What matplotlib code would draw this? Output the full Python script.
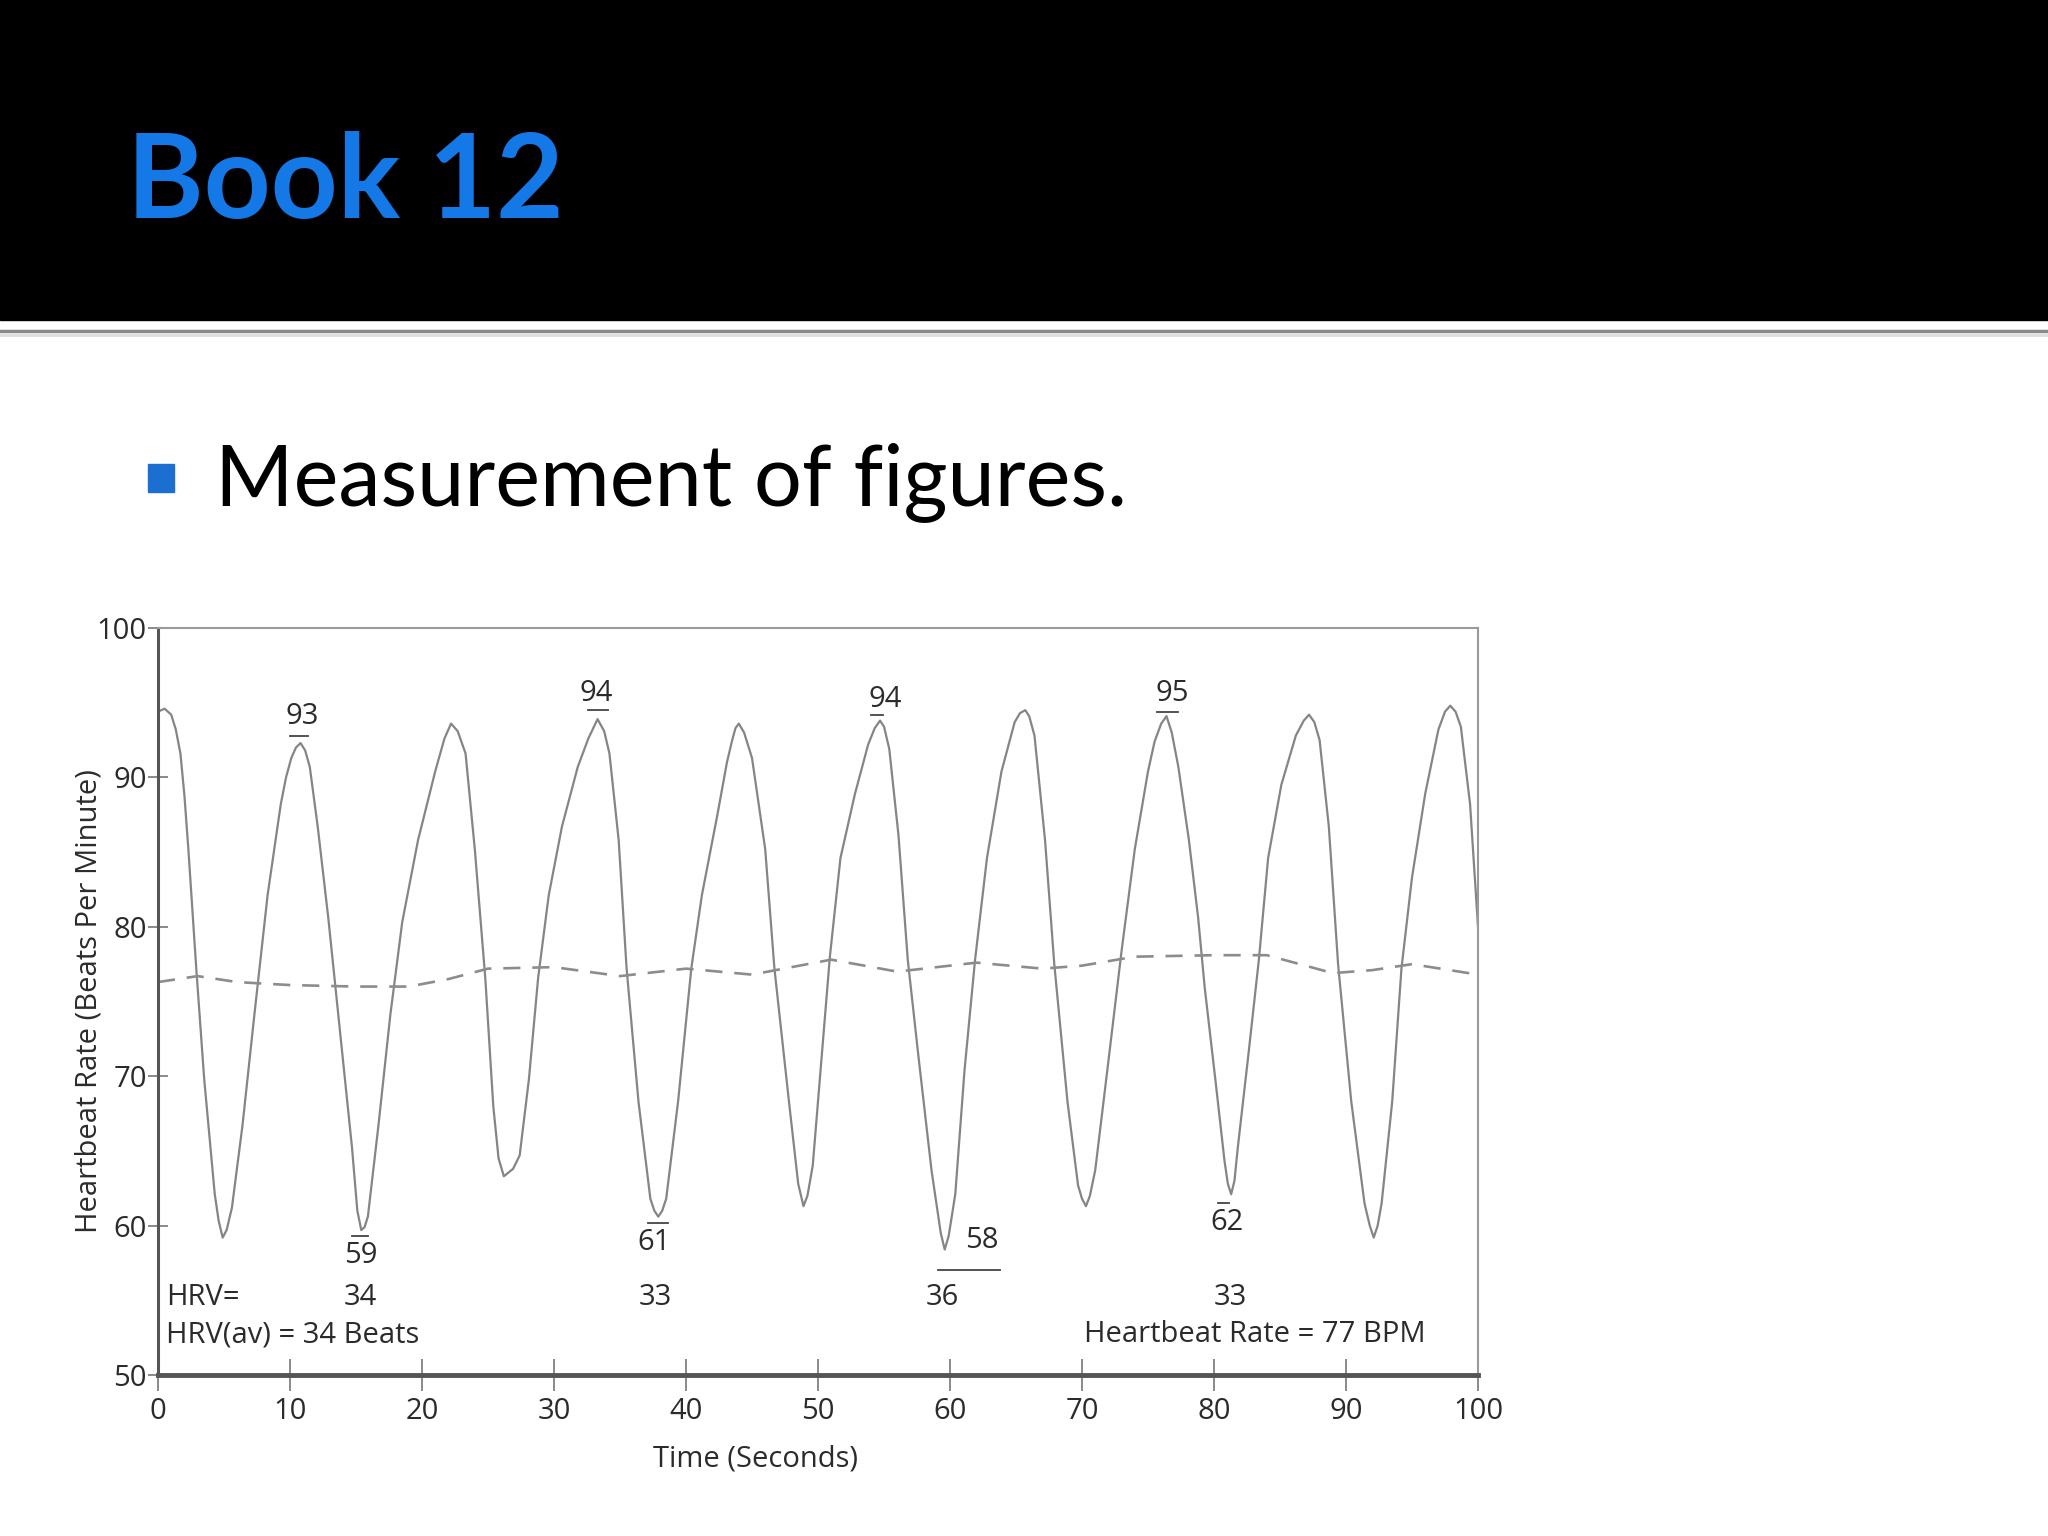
import matplotlib
matplotlib.use('Agg')
import matplotlib.pyplot as plt
from matplotlib.patches import Rectangle
from matplotlib.lines import Line2D

# heart rate trace (seconds, beats per minute)
t_hr = [0.0, 0.5, 1.0, 1.35, 1.7, 2.0, 2.3, 2.9, 3.5, 4.3, 4.6, 4.9, 5.2, 5.6, 6.4, 7.3,
        8.3, 9.3, 9.7, 10.1, 10.45, 10.8, 11.15, 11.5, 12.1, 12.9, 13.8, 14.7, 15.1, 15.4,
        15.65, 15.9, 16.7, 17.6, 18.5, 19.7, 21.0, 21.7, 22.2, 22.7, 23.3, 24.0, 24.8, 25.4,
        25.8, 26.2, 26.9, 27.4, 28.1, 28.8, 29.6, 30.6, 31.8, 32.6, 33.3, 33.8, 34.2, 34.9,
        35.5, 36.4, 37.3, 37.6, 37.9, 38.2, 38.5, 39.4, 40.4, 41.2, 42.4, 43.1, 43.5, 43.75,
        44.0, 44.4, 45.0, 46.0, 46.7, 47.8, 48.5, 48.9, 49.2, 49.6, 50.3, 50.9, 51.7, 52.8,
        53.8, 54.3, 54.7, 55.0, 55.4, 56.1, 56.8, 57.6, 58.6, 59.3, 59.6, 59.9, 60.4, 61.1,
        61.9, 62.8, 63.9, 64.9, 65.3, 65.7, 66.0, 66.4, 67.2, 67.9, 68.9, 69.7, 70.0, 70.3,
        70.6, 71.0, 72.0, 73.0, 74.0, 75.0, 75.5, 76.0, 76.4, 76.8, 77.3, 78.1, 78.8, 79.3,
        80.1, 80.8, 81.05, 81.3, 81.55, 81.8, 82.6, 83.4, 84.1, 85.1, 86.2, 86.8, 87.2, 87.6,
        88.0, 88.7, 89.4, 90.4, 91.4, 91.8, 92.1, 92.4, 92.7, 93.5, 94.2, 95.0, 96.0, 97.0,
        97.5, 97.9, 98.3, 98.7, 99.4, 100.0]
hr = [94.4, 94.6, 94.2, 93.2, 91.6, 88.8, 85.2, 77.2, 69.8, 62.1, 60.3, 59.2, 59.7, 61.2, 66.7, 74.1,
      82.1, 88.2, 90.0, 91.3, 92.0, 92.3, 91.8, 90.7, 86.7, 80.6, 72.9, 65.2, 61.0, 59.7,
      59.9, 60.6, 66.7, 74.1, 80.3, 85.8, 90.4, 92.6, 93.6, 93.1, 91.6, 85.2, 76.5, 68.0,
      64.5, 63.3, 63.8, 64.7, 69.8, 76.6, 82.1, 86.7, 90.7, 92.6, 93.9, 93.1, 91.6, 85.8,
      77.2, 68.3, 61.8, 61.0, 60.6, 61.0, 61.8, 68.3, 77.2, 82.1, 87.6, 91.0, 92.5, 93.3,
      93.6, 93.0, 91.3, 85.2, 77.2, 68.3, 62.8, 61.3, 62.0, 64.0, 71.5, 78.0, 84.6, 88.9,
      92.2, 93.3, 93.8, 93.4, 91.9, 86.1, 77.8, 71.4, 63.7, 59.5, 58.4, 59.3, 62.1, 70.4,
      77.8, 84.6, 90.4, 93.7, 94.3, 94.5, 94.1, 92.8, 85.8, 77.5, 68.3, 62.7, 61.8, 61.3,
      62.0, 63.7, 71.0, 78.4, 85.2, 90.4, 92.4, 93.6, 94.1, 93.0, 90.7, 85.8, 80.6, 75.9,
      69.8, 64.3, 62.8, 62.1, 63.0, 65.2, 71.4, 77.8, 84.6, 89.5, 92.8, 93.8, 94.2, 93.7,
      92.5, 86.7, 77.5, 68.3, 61.5, 60.0, 59.2, 60.0, 61.5, 68.3, 77.2, 83.3, 88.9, 93.2,
      94.4, 94.8, 94.4, 93.4, 88.2, 80.0]

# running average (dashed)
t_avg = [0, 3, 6, 10, 15, 19, 22, 25, 30, 35, 40, 45, 51, 56, 62, 67, 70, 74, 80, 84, 89, 92, 95, 100]
avg = [76.3, 76.7, 76.3, 76.1, 76.0, 76.0, 76.5, 77.2, 77.3, 76.7, 77.2, 76.8, 77.8, 77.0,
       77.6, 77.2, 77.4, 78.0, 78.1, 78.1, 76.9, 77.1, 77.5, 76.8]

# peak / trough labels
peak_txt = ['93', '94', '94', '95']
peak_t = [10.9, 33.2, 55.1, 76.8]
peak_v = [94.1, 95.6, 95.2, 95.6]
peak_bar = [(10.0, 11.4, 92.8), (32.6, 34.1, 94.5), (54.0, 54.9, 94.2), (75.7, 77.3, 94.4)]
low_txt = ['59', '61', '58', '62']
low_t = [15.4, 37.6, 62.4, 81.0]
low_v = [58.0, 58.9, 59.0, 60.2]
low_bar = [(14.7, 15.9, 59.3), (37.1, 38.6, 60.2), (59.1, 63.8, 57.0), (80.3, 81.1, 61.5)]
hrv_txt = ['34', '33', '36', '33']
hrv_t = [15.3, 37.7, 59.4, 81.2]

W, H = 2048, 1536
fig = plt.figure(figsize=(W / 100, H / 100), dpi=100)
fig.patch.set_facecolor('white')

# slide header
fig.patches.append(Rectangle((0, 1 - 320 / H), 1, 320 / H, transform=fig.transFigure,
                             color='black', zorder=0))
fig.lines.append(Line2D([0, 1], [1 - 331 / H] * 2, transform=fig.transFigure,
                        color='#8a8a8a', lw=2.5))
fig.lines.append(Line2D([0, 1], [1 - 335 / H] * 2, transform=fig.transFigure,
                        color='#dedede', lw=2))
fig.text(127 / W, 1 - 218 / H, 'Book 12', fontsize=84, fontweight='bold', color='#1478e6',
         family=['Lato', 'DejaVu Sans'], va='baseline')
fig.patches.append(Rectangle((148 / W, 1 - 492 / H), 26 / W, 28 / H, transform=fig.transFigure,
                             color='#1a6fd0'))
fig.text(215 / W, 1 - 505 / H, 'Measurement of figures.', fontsize=61, color='black',
         family=['Lato', 'DejaVu Sans'], va='baseline')

# chart
fam = ['Liberation Sans Narrow', 'Open Sans', 'DejaVu Sans']
txtc = '#2b2b2b'
ax = fig.add_axes([158 / W, 1 - 1375 / H, 1320 / W, 747 / H])
ax.plot(t_hr, hr, color='#858585', lw=1.6, solid_joinstyle='round')
ln, = ax.plot(t_avg, avg, color='#8c8c8c', lw=1.9)
ln.set_dashes((6.5, 4.5))

ax.set_xlim(0, 100)
ax.set_ylim(50, 100)
ax.set_xticks(range(0, 101, 10))
ax.set_yticks(range(50, 101, 10))
for s in ['top', 'right']:
    ax.spines[s].set_color('#9a9a9a')
    ax.spines[s].set_linewidth(1.5)
ax.spines['left'].set_color('#555555')
ax.spines['left'].set_linewidth(2.2)
ax.spines['bottom'].set_color('#555555')
ax.spines['bottom'].set_linewidth(3.5)
ax.tick_params(axis='x', direction='inout', length=23, width=1.2, color='#777777', pad=4,
               labelsize=21, labelcolor=txtc)
ax.tick_params(axis='y', direction='inout', length=14, width=1.2, color='#777777', pad=1,
               labelsize=21, labelcolor=txtc)
for lb in ax.get_xticklabels() + ax.get_yticklabels():
    lb.set_family(fam)

ax.set_xlabel('Time (Seconds)', fontsize=21, family=fam, color=txtc, labelpad=14)
ax.xaxis.label.set_x(0.453)
ax.set_ylabel('Heartbeat Rate (Beats Per Minute)', fontsize=21, family=fam, color=txtc,
              labelpad=-5)

for s, x, y in zip(peak_txt, peak_t, peak_v):
    ax.text(x, y, s, ha='center', va='center', fontsize=21, family=fam, color=txtc)
for x0, x1, y in peak_bar:
    ax.plot([x0, x1], [y, y], color='#444444', lw=1.3)
for s, x, y in zip(low_txt, low_t, low_v):
    ax.text(x, y, s, ha='center', va='center', fontsize=21, family=fam, color=txtc)
for x0, x1, y in low_bar:
    ax.plot([x0, x1], [y, y], color='#444444', lw=1.3)

ax.text(0.6, 55.2, 'HRV=', ha='left', va='center', fontsize=21, family=fam, color=txtc)
for s, x in zip(hrv_txt, hrv_t):
    ax.text(x, 55.2, s, ha='center', va='center', fontsize=21, family=fam, color=txtc)
ax.text(0.6, 52.7, 'HRV(av) = 34 Beats', ha='left', va='center', fontsize=21, family=fam,
        color=txtc)
ax.text(96.0, 52.7, 'Heartbeat Rate = 77 BPM', ha='right', va='center', fontsize=21,
        family=fam, color=txtc)

fig.savefig('out.png', dpi=100)
